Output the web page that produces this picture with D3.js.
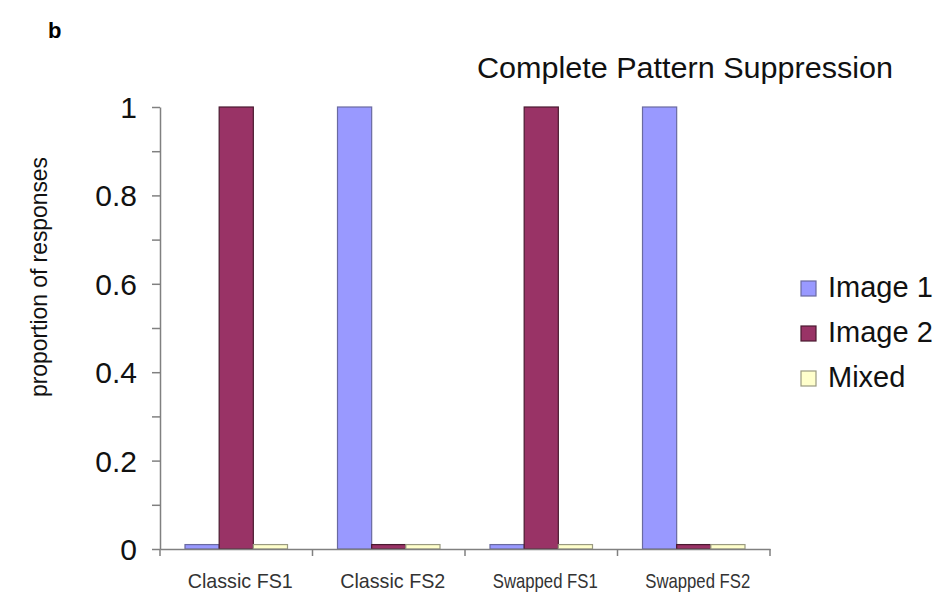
<!DOCTYPE html>
<html><head><meta charset="utf-8">
<script src="https://cdn.jsdelivr.net/npm/d3@7"></script>
<style>body{margin:0;background:#fff}svg{display:block;font-family:"Liberation Sans",Arial,sans-serif}</style>
</head><body><svg id="c" width="944" height="594"></svg>
<script>
const categories = ["Classic FS1","Classic FS2","Swapped FS1","Swapped FS2"];
const seriesNames = ["Image 1","Image 2","Mixed"];
const image1 = [0.01, 1, 0.01, 1];
const image2 = [1, 0.01, 1, 0.01];
const mixed = [0.01, 0.01, 0.01, 0.01];
const yTicks = [0,0.1,0.2,0.3,0.4,0.5,0.6,0.7,0.8,0.9,1];
const yLabels = ["0","0.2","0.4","0.6","0.8","1"];
const colors = ["#9999FF","#993366","#FFFFCC"];
const strokes = ["#6a6aa0","#4a1a30","#9a9a80"];

(function(){
const svg = d3.select("#c");
const mLeft = 160, mRight = 770, mTop = 107, mBottom = 549;
const x = d3.scaleBand().domain(categories).range([mLeft,mRight]).paddingInner(0).paddingOuter(0);
const inner = d3.scaleBand().domain(seriesNames).range([25, x.bandwidth()-25]);
const y = d3.scaleLinear().domain([0,1]).range([mBottom,mTop]);
const values = [image1,image2,mixed];

// bars
seriesNames.forEach((s,si)=>{
  svg.append("g").selectAll("rect").data(categories).join("rect")
    .attr("x",(c)=>x(c)+inner(s))
    .attr("y",(c,i)=>y(values[si][i]))
    .attr("width",inner.bandwidth())
    .attr("height",(c,i)=>mBottom-y(values[si][i]))
    .attr("fill",colors[si]).attr("stroke",strokes[si]).attr("stroke-width",1.2);
});

// y axis
const ya = svg.append("g").attr("transform",`translate(${mLeft},0)`)
  .call(d3.axisLeft(y).tickValues(yTicks).tickSize(8).tickSizeOuter(0).tickFormat(""));
ya.selectAll("line,path").attr("stroke","#808080").attr("stroke-width",1.5);
svg.append("g").selectAll("text").data(yLabels).join("text")
  .attr("x",137).attr("y",d=>y(+d)+11).attr("text-anchor","end")
  .attr("font-size",30).attr("fill","#111").text(d=>d);

// x axis
const xa = svg.append("g").attr("transform",`translate(0,${mBottom})`)
  .call(d3.axisBottom(x).tickValues([]).tickSizeOuter(0));
xa.select("path").attr("stroke","#808080").attr("stroke-width",1.5);
svg.append("g").selectAll("line").data(d3.range(categories.length+1)).join("line")
  .attr("x1",i=>mLeft+i*x.bandwidth()).attr("x2",i=>mLeft+i*x.bandwidth())
  .attr("y1",mBottom).attr("y2",mBottom+7).attr("stroke","#808080").attr("stroke-width",1.5);
svg.append("g").selectAll("text").data(categories).join("text")
  .attr("x",c=>x(c)+x.bandwidth()/2+4).attr("y",588).attr("text-anchor","middle")
  .attr("font-size",21).attr("fill","#333").attr("textLength",105).attr("lengthAdjust","spacingAndGlyphs")
  .text(c=>c);

// y label
svg.append("text").attr("transform","translate(47,277) rotate(-90)").attr("text-anchor","middle")
  .attr("font-size",24).attr("fill","#111").attr("textLength",240).attr("lengthAdjust","spacingAndGlyphs")
  .text("proportion of responses");

// title
svg.append("text").attr("x",477).attr("y",78)
  .attr("font-size",30).attr("fill","#111").attr("textLength",416).attr("lengthAdjust","spacingAndGlyphs")
  .text("Complete Pattern Suppression");

// panel letter
svg.append("text").attr("x",48).attr("y",38).attr("font-size",22).attr("font-weight","bold").text("b");

// legend
const lg = svg.append("g").selectAll("g").data(seriesNames).join("g")
  .attr("transform",(d,i)=>`translate(801,${297+i*45})`);
lg.append("rect").attr("x",0).attr("y",-16).attr("width",15).attr("height",15)
  .attr("fill",(d,i)=>colors[i]).attr("stroke",(d,i)=>strokes[i]).attr("stroke-width",1.2);
lg.append("text").attr("x",27).attr("y",0).attr("font-size",29).attr("fill","#111").text(d=>d);
})();
</script></body></html>
